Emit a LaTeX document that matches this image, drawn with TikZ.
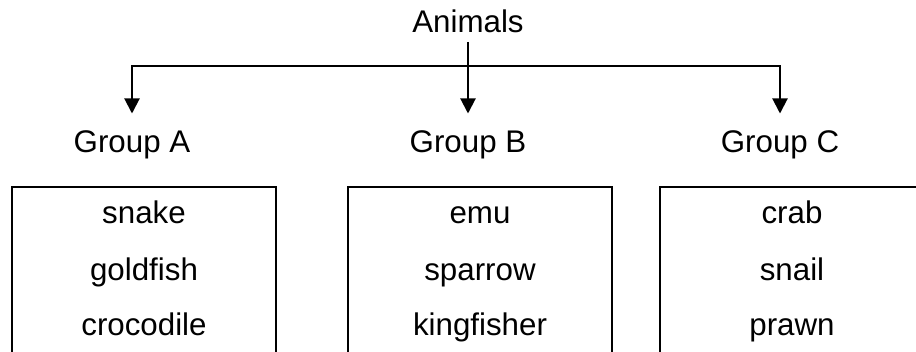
\documentclass[tikz,border=0pt]{standalone}
\usepackage{fontspec}
\setmainfont{Liberation Sans}
\usetikzlibrary{arrows.meta}
\tikzset{
  lbl/.style={anchor=base, inner sep=0pt, font=\fontsize{31.3}{36}\selectfont},
  grp/.style={lbl, text height=22pt, text depth=7pt, outer ysep=17.5pt},
  top/.style={lbl, text depth=7pt, outer ysep=2pt},
  arr/.style={draw=black, line width=2pt, -{Triangle[width=15pt,length=15pt]}},
  listbox/.style={draw=black, line width=2pt, minimum width=264pt, minimum height=240pt, anchor=north, inner sep=0pt}
}
\begin{document}
\begin{tikzpicture}[x=1pt,y=1pt]
\useasboundingbox (0,0) rectangle (916,-352);
\clip (0,0) rectangle (916,-352);
\node[top] (anim) at (468,-33) {Animals};
\node[grp] (gA) at (132,-153) {Group A};
\node[grp] (gB) at (468,-153) {Group B};
\node[grp] (gC) at (780,-153) {Group C};
\coordinate (j) at (468,-66);
\draw[line width=2pt] (anim.south) -- (j);
\draw[arr] (j) -- (gB.north);
\draw[arr] (j) -| (gA.north);
\draw[arr] (j) -| (gC.north);
\node[listbox] (boxA) at (144,-185.7) {};
\node[listbox] (boxB) at (480,-185.7) {};
\node[listbox] (boxC) at (792,-185.7) {};
\node[lbl] (a1) at (144,-224) {snake};
\node[lbl] (a2) at (144,-281) {goldfish};
\node[lbl] (a3) at (144,-336) {crocodile};
\node[lbl] (b1) at (480,-224) {emu};
\node[lbl] (b2) at (480,-281) {sparrow};
\node[lbl] (b3) at (480,-336) {kingfisher};
\node[lbl] (c1) at (792,-224) {crab};
\node[lbl] (c2) at (792,-281) {snail};
\node[lbl] (c3) at (792,-336) {prawn};
\end{tikzpicture}
\end{document}
